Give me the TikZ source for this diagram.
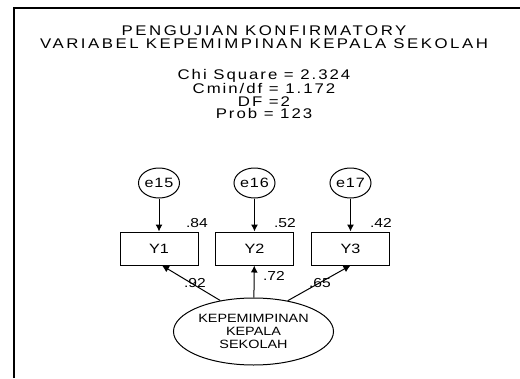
\documentclass[tikz,border=0pt]{standalone}
\usepackage{fontspec}
\setmainfont{Liberation Sans}[FakeStretch=1.2]
\usetikzlibrary{arrows.meta,shapes.geometric}

\begin{document}
\begin{tikzpicture}[x=1pt,y=-1pt,
  errvar/.style={draw, line width=1pt, ellipse, minimum width=41pt, minimum height=30pt, inner sep=0pt, font=\fontsize{13.5}{13}\selectfont\addfontfeatures{LetterSpace=6}},
  obsvar/.style={draw, line width=1pt, rectangle, minimum width=78pt, minimum height=33pt, inner sep=0pt, font=\fontsize{13.5}{13}\selectfont},
  latvar/.style={draw, line width=1pt, ellipse, minimum width=160pt, minimum height=67pt, inner sep=0pt, align=center, font=\fontsize{12}{13}\selectfont},
  coef/.style={font=\fontsize{13}{13}\selectfont, inner sep=0pt},
  path/.style={line width=1pt, -{Latex[length=7pt,width=7pt]}}]

% Define dimensions
\def\colone{159}
\def\coltwo{254.5}
\def\colthree{350.5}
\def\errrow{183}
\def\obsrow{248.5}

\useasboundingbox (0,0) rectangle (520,378);

% Frame round the output
\draw[line width=2pt] (14,378) -- (14,8) -- (520,8);

% Title and fit statistics
\node[align=center, font=\fontsize{14}{13}\selectfont\addfontfeatures{LetterSpace=18}] (title) at (264,37.5)
  {PENGUJIAN KONFIRMATORY\\VARIABEL KEPEMIMPINAN KEPALA SEKOLAH};
\node[align=center, font=\fontsize{14}{12.5}\selectfont\addfontfeatures{LetterSpace=14}] (stats) at (264,94)
  {Chi Square = 2.324\\Cmin/df = 1.172\\DF =2\\Prob = 123};

% Error terms
\node[errvar] (e15) at (\colone,\errrow) {e15};
\node[errvar] (e16) at (\coltwo,\errrow) {e16};
\node[errvar] (e17) at (\colthree,\errrow) {e17};

% Indicators
\node[obsvar] (y1) at (\colone,\obsrow) {Y1};
\node[obsvar] (y2) at (\coltwo,\obsrow) {Y2};
\node[obsvar] (y3) at (\colthree,\obsrow) {Y3};

% Latent variable
\node[latvar] (kks) at (253.5,331.5) {KEPEMIMPINAN\\KEPALA\\SEKOLAH};

% Error paths
\draw[path] (e15) -- (y1);
\draw[path] (e16) -- (y2);
\draw[path] (e17) -- (y3);

% Loadings
\draw[path] (kks.137) -- (y1.-80);
\draw[path] (kks) -- (y2);
\draw[path] (kks.42) -- (y3.south);

% Squared multiple correlations
\node[coef] at (197,223) {.84};
\node[coef] at (285,223) {.52};
\node[coef] at (381,223) {.42};

% Standardized loadings
\node[coef] at (195,283) {.92};
\node[coef] at (274,276) {.72};
\node[coef] at (320,283) {.65};
\end{tikzpicture}
\end{document}
